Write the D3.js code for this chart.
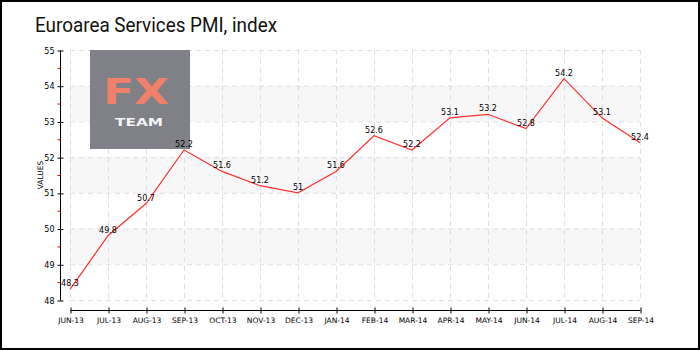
<!DOCTYPE html>
<html>
<head>
<meta charset="utf-8">
<script src="https://cdn.jsdelivr.net/npm/d3@7/dist/d3.min.js"></script>
<style>
  html, body { margin: 0; padding: 0; background: #fff; }
  svg { display: block; }
</style>
</head>
<body>
<svg id="chart" width="700" height="350"></svg>
<script>
// Monthly Euroarea services PMI readings
const months = ["JUN-13", "JUL-13", "AUG-13", "SEP-13", "OCT-13", "NOV-13", "DEC-13", "JAN-14",
                "FEB-14", "MAR-14", "APR-14", "MAY-14", "JUN-14", "JUL-14", "AUG-14", "SEP-14"];
const pmi = [48.3, 49.8, 50.7, 52.2, 51.6, 51.2, 51, 51.6, 52.6, 52.2, 53.1, 53.2, 52.8, 54.2, 53.1, 52.4];
const labels = ["48.3", "49.8", "50.7", "52.2", "51.6", "51.2", "51", "51.6", "52.6", "52.2", "53.1", "53.2", "52.8", "54.2", "53.1", "52.4"];
const yTicks = [48, 49, 50, 51, 52, 53, 54, 55];
const yMinorTicks = [48.5, 49.5, 50.5, 51.5, 52.5, 53.5, 54.5];
const titleText = "Euroarea Services PMI, index";
const yAxisTitle = "VALUES";

const svg = d3.select("#chart");
const W = 700, H = 350;
const smallFont = "'DejaVu Sans', sans-serif";

// outer frame
svg.append("rect").attr("x", 1).attr("y", 1).attr("width", W - 2).attr("height", H - 2)
  .attr("fill", "#fff").attr("stroke", "#000").attr("stroke-width", 2);

// title
svg.append("text").attr("x", 35).attr("y", 32)
  .attr("font-family", "Roboto, sans-serif").attr("font-size", 21)
  .attr("textLength", 242).attr("lengthAdjust", "spacingAndGlyphs")
  .attr("fill", "#111").text(titleText);

const x = d3.scalePoint().domain(months).range([70, 640]);
const y = d3.scaleLinear().domain([48, 55]).range([300, 50]);

// alternating background bands
const bandStarts = [49, 51, 53];
svg.append("g").selectAll("rect").data(bandStarts).join("rect")
  .attr("x", 70).attr("width", 570)
  .attr("y", d => y(d + 1)).attr("height", d => y(d) - y(d + 1))
  .attr("fill", "#f7f7f7");

// dashed grid
const grid = svg.append("g").attr("stroke", "#d8d8d8").attr("stroke-dasharray", "5,4")
  .attr("stroke-opacity", 0.8).attr("fill", "none");
grid.selectAll("line.h").data(yTicks).join("line").attr("class", "h")
  .attr("x1", 70).attr("x2", 640).attr("y1", d => y(d) + 0.5).attr("y2", d => y(d) + 0.5);
grid.selectAll("line.v").data(months).join("line").attr("class", "v")
  .attr("x1", d => x(d) + 0.5).attr("x2", d => x(d) + 0.5).attr("y1", 50).attr("y2", 300);

// logo
const logo = svg.append("g").attr("opacity", 0.95);
logo.append("rect").attr("x", 90).attr("y", 50).attr("width", 100).attr("height", 99)
  .attr("fill", "#7a7a82");
logo.append("text").attr("x", 103).attr("y", 103.5)
  .attr("font-family", "'DejaVu Sans', sans-serif").attr("font-size", 36).attr("font-weight", "bold")
  .attr("textLength", 66).attr("lengthAdjust", "spacingAndGlyphs")
  .attr("fill", "#f07a62").text("FX");
logo.append("text").attr("x", 115).attr("y", 125.5)
  .attr("font-family", "'DejaVu Sans', sans-serif").attr("font-size", 11).attr("font-weight", "bold")
  .attr("textLength", 48).attr("lengthAdjust", "spacingAndGlyphs")
  .attr("fill", "#f4f4f4").text("TEAM");

// y axis
const yAxis = svg.append("g").attr("transform", "translate(60.5,0.5)")
  .call(d3.axisLeft(y).tickValues(yTicks).tickFormat(d3.format("d")).tickSize(3).tickPadding(3));
yAxis.select(".domain").attr("d", `M0,${y(55)}V${y(48)}`).attr("stroke", "#000");
yAxis.selectAll(".tick line").attr("x1", -3).attr("x2", 3).attr("stroke", "#000");
yAxis.selectAll(".tick text").attr("font-family", smallFont).attr("font-size", 8).attr("fill", "#000");
yAxis.append("g").selectAll("line").data(yMinorTicks).join("line")
  .attr("x1", -3).attr("x2", 0).attr("y1", d => y(d)).attr("y2", d => y(d))
  .attr("stroke", "#e00000");

svg.append("text").attr("transform", `translate(43,${y(51.5)}) rotate(-90)`)
  .attr("text-anchor", "middle").attr("font-family", smallFont).attr("font-size", 7.5)
  .attr("fill", "#000").text(yAxisTitle);

// x axis
const xAxis = svg.append("g").attr("transform", "translate(0.5,310.5)")
  .call(d3.axisBottom(x).tickSize(3).tickPadding(4));
xAxis.select(".domain").attr("d", "M70,0H640").attr("stroke", "#000");
xAxis.selectAll(".tick line").attr("y1", -3).attr("y2", 3).attr("stroke", "#000");
xAxis.selectAll(".tick text").attr("font-family", smallFont).attr("font-size", 7.5).attr("fill", "#000");

// series line
const rows = months.map((m, i) => ({ m, v: pmi[i], label: labels[i] }));
svg.append("path").datum(rows)
  .attr("d", d3.line().x(d => x(d.m)).y(d => y(d.v)))
  .attr("fill", "none").attr("stroke", "#ff3030").attr("stroke-width", 1.2);

// value labels
svg.append("g").selectAll("text").data(rows).join("text")
  .attr("x", d => x(d.m)).attr("y", d => y(d.v) - 3)
  .attr("text-anchor", "middle").attr("font-family", smallFont).attr("font-size", 8)
  .attr("fill", "#000").text(d => d.label);
</script>
</body>
</html>
